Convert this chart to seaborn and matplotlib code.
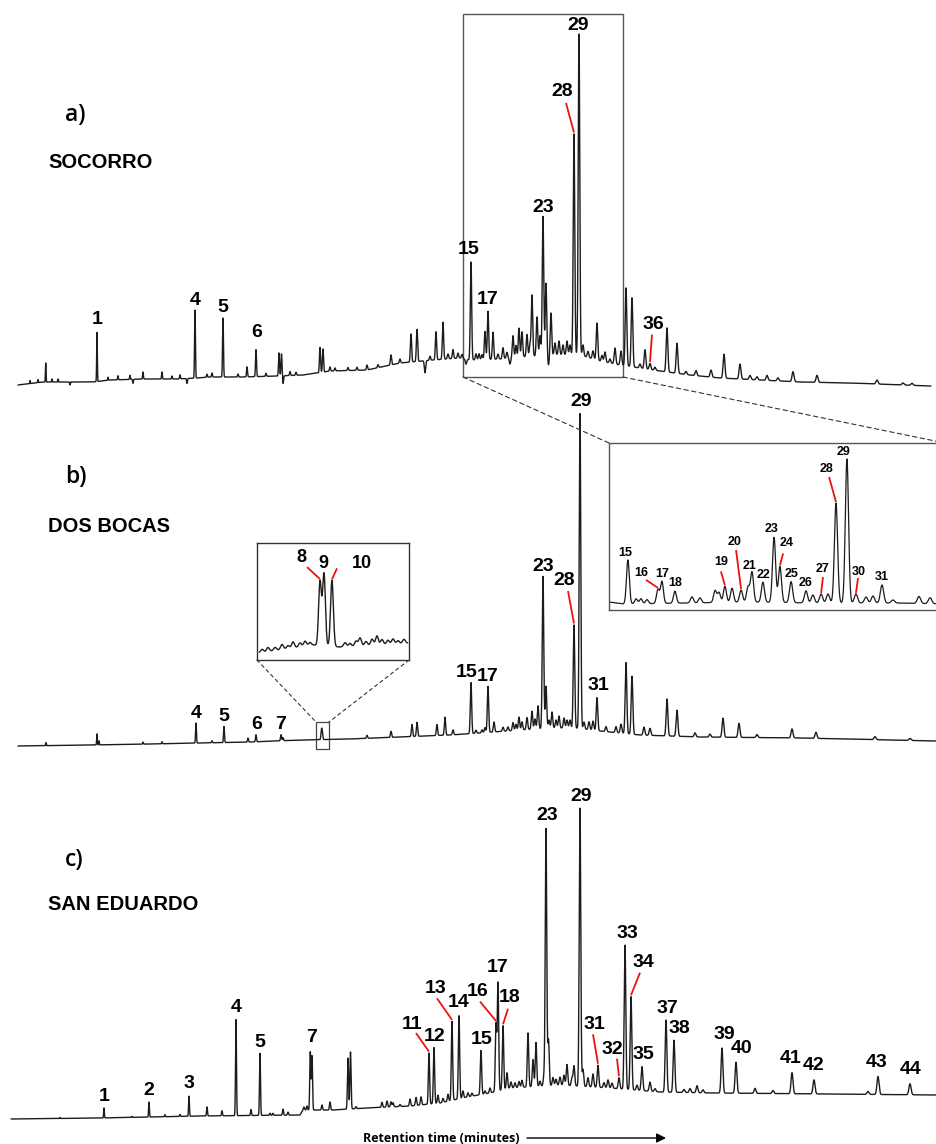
import numpy as np
import matplotlib
matplotlib.use("Agg")
import matplotlib.pyplot as plt
import seaborn as sns
import pandas as pd
from matplotlib.patches import Rectangle, ConnectionPatch

# ======================= DATA =======================
# retention axis in arbitrary units (same scale for all three chromatograms)
# ---- a) SOCORRO
a_base_rt = [18, 43, 93, 110, 143, 177, 197, 210, 243, 277, 303, 330, 367, 400, 433, 460,
             470, 500, 520, 550, 580, 600, 620, 640, 660, 690, 720, 760, 800, 850, 930]
a_base_int = [15, 18, 18, 20, 21, 21, 22, 23, 23, 24, 25, 29, 30, 37, 40, 42,
              40, 41, 43, 45, 45, 39, 35, 32, 29, 25, 22, 20, 18, 17, 14]
a_peak_rt = [30, 38, 45.7, 52, 58, 70, 97, 108, 118, 130, 133, 143, 162, 172, 180, 187, 195,
             207, 212, 223, 238, 247, 256, 266, 279, 281.5, 283, 290, 296, 320, 323, 330, 335,
             348, 357, 367, 378, 391, 400, 411, 417, 425, 430, 436, 443, 448, 453, 458, 462,
             466, 471, 476, 479, 482, 485, 488, 493, 498, 503, 507, 510, 513, 516, 519, 522,
             527, 530, 532, 537, 540, 543, 546, 548.5, 551, 555, 559, 563, 567, 570, 574,
             579, 583, 588, 593, 597, 602, 605, 610, 615, 621, 626, 632, 640, 645, 650, 655,
             667, 677, 686, 696, 711, 724, 740, 750, 757, 767, 778, 793, 817, 877, 903, 912]
a_peak_h = [3, 3, 19, 3, 3, -3, 49, 3, 4, 4, -4, 7, 7, 3, 4, -5, 68,
            3, 4, 59, 3, 10, 27, 3, 23, 22, -8, 4, 3, 25, 23, 4, 3,
            3, 3, 5, 3, 10, 4, 28, 32, -12, 4, 28, 37, 5, 9, 5, 4,
            -5, 98, 6, 6, 5, 28, 48, 27, 5, 11, 6, -6, 22, 12, 29, 25,
            22, 12, 61, 39, 20, 139, 72, -10, 42, 12, 14, 10, 14, 10, 221,
            321, 11, 6, 8, 37, 6, 10, 4, 16, 14, 78, 69, 4, 19, 6, 3,
            44, 30, 3, 5, 7, 24, 15, 4, 3, 5, 3, 10, 7, 4, 2, 2]
a_labels = ["1", "4", "5", "6", "15", "17", "23", "28", "29", "36"]
a_label_rt = [97, 195, 223, 256, 471, 488, 543, 574, 579, 650]

# ---- b) DOS BOCAS
b_base_rt = [18, 90, 150, 250, 300, 350, 400, 450, 480, 520, 550, 575, 600, 640, 700, 800, 936]
b_base_int = [14, 15, 16, 18, 20, 21, 23, 25, 27, 30, 32, 32, 29, 25, 23, 22, 19]
b_peak_rt = [46, 97, 99, 143, 162, 196, 212, 224, 248, 256, 281, 283, 321.4, 321.7, 322.4,
             367, 391, 412, 417, 437, 445, 453, 471, 476, 482, 485, 488, 494, 503, 508,
             513, 516, 519, 522, 527, 532, 535, 538, 543, 546, 549, 552, 556, 559, 564,
             567, 570, 574, 580, 584, 589, 593, 597, 606, 616, 621, 626, 632, 644, 650,
             667, 677, 695, 710, 723, 739, 757, 792, 816, 875, 910]
b_peak_h = [3, 11, 4, 2, 2, 20, 2, 16, 4, 7, 6, 3, 5, 5, 5,
            3, 6, 12, 14, 11, 18, 5, 51, 3, 3, 5, 46, 10, 4, 4,
            8, 6, 13, 8, 12, 18, 10, 23, 152, 42, 8, 16, 8, 12, 10,
            8, 8, 103, 315, 7, 8, 9, 33, 5, 6, 9, 71, 58, 8, 7,
            37, 26, 4, 3, 19, 14, 3, 9, 6, 3, 2]
b_labels = ["4", "5", "6", "7", "15", "17", "23", "28", "29", "31"]
b_label_rt = [196, 224, 256, 281, 471, 488, 543, 574, 580, 597]

# ---- b) enlarged window 15-31 (same retention scale)
z_base_rt = [463, 470, 500, 530, 560, 600, 623]
z_base_int = [8, 6, 7, 8, 7, 7, 6]
z_peak_rt = [472.0, 475.9, 478.2, 481.1, 486.3, 488.2, 494.4, 502.5, 506.3, 513.5, 515.4,
             518.2, 521.6, 525.9, 529.2, 531.1, 536.3, 541.6, 544.4, 549.7, 556.8, 560.1,
             564.0, 567.3, 571.1, 576.3, 580.6, 585.4, 588.7, 593.0, 598.2, 610.6, 615.9]
z_peak_h = [44, 5, 5, 4, 14, 22, 12, 6, 5, 12, 10,
            16, 14, 12, 15, 30, 20, 65, 36, 21, 12, 8,
            9, 9, 100, 144, 9, 6, 7, 18, 3, 7, 6]
z_labels = ["15", "16", "17", "18", "19", "20", "21", "22", "23", "24", "25", "26",
            "27", "28", "29", "30", "31"]
z_label_rt = [472.0, 486.3, 488.2, 494.4, 518.2, 525.9, 531.1, 536.3, 541.6, 544.4,
              549.7, 556.8, 564.0, 571.1, 576.3, 580.6, 593.0]

# ---- b) enlarged window 8-10
s_base_rt = [316, 320.8, 323.1, 329]
s_base_int = [7, 15, 13, 17]
s_peak_rt = [316.43, 316.94, 317.54, 318.14, 318.65, 319.08, 319.68, 320.11, 320.53,
             321.39, 321.73, 322.41, 323.53, 323.95, 324.47, 324.81, 325.32, 325.84,
             326.26, 326.69, 327.20, 327.63, 328.06, 328.57]
s_peak_h = [3, 4, 3, 5, 3, 6, 4, 5, 3,
            64, 72, 66, 4, 3, 5, 8, 4, 6,
            9, 5, 4, 5, 3, 4]
s_labels = ["8", "9", "10"]
s_label_rt = [321.39, 321.73, 322.41]

# ---- c) SAN EDUARDO
c_base_rt = [11, 100, 200, 300, 303, 333, 367, 410, 440, 467, 490, 510, 560, 610, 660,
             713, 827, 936]
c_base_int = [25, 26, 28, 29, 34, 34, 36, 38, 41, 47, 51, 56, 59, 56, 52, 51, 50, 49]
c_peak_rt = [60, 104, 132, 149, 165, 180, 189, 207, 222, 236, 251, 260, 270, 273, 283,
             288, 304, 307, 310.3, 312, 322, 330, 348, 350.5, 356, 382, 387, 391, 393, 400,
             410, 416, 421, 429, 434, 438, 443, 448, 452, 459, 463, 468, 472, 481, 485,
             490, 496, 498, 503, 507, 511, 515, 519, 522, 528, 533, 536, 540, 544, 546,
             548.5, 553, 556, 560, 564, 567, 572, 574, 580, 583, 588, 593, 598, 604, 608,
             612, 619, 625, 631, 637, 642, 650, 655, 666, 674, 684, 690, 697, 703, 722,
             736, 755, 773, 792, 814, 868, 878, 910]
c_peak_h = [1, 10, 1, 15, 2, 2, 20, 9, 5, 96, 6, 62, 2, 2, 6,
            3, 3, 4, 58, 54, 5, 8, 51, 57, 2, 5, 6, 5, 4, 2,
            7, 8, 8, 51, 56, 8, 4, 7, 79, 83, 7, 4, 3, 44, 3,
            5, 67, 108, 64, 16, 6, 5, 6, 7, 54, 27, 44, 5, 10, 257,
            46, 8, 6, 8, 10, 21, 8, 20, 278, 17, 9, 13, 22, 5, 8,
            5, 11, 144, 93, 5, 24, 9, 3, 72, 52, 3, 4, 7, 3, 45,
            31, 5, 3, 21, 14, 3, 18, 11]
c_labels = ["1", "2", "3", "4", "5", "7", "11", "12", "13", "14", "15", "16", "17", "18",
            "23", "29", "31", "32", "33", "34", "35", "37", "38", "39", "40", "41", "42",
            "43", "44"]
c_label_rt = [104, 149, 189, 236, 260, 311, 429, 434, 452, 459, 481, 496, 498, 503,
              546, 580, 598, 619, 625, 631, 642, 666, 674, 722, 736, 792, 814, 878, 910]

# ======================= LAYOUT (label offsets, leaders) =======================
# (dx, dy) of each label centre relative to its peak top; leader: (sx, sy) start offset
a_lab_off = [(0, 13), (0, 10), (0, 10), (1, 17), (-2, 12), (0, 12), (0, 9), (-12, 42), (-1, 8), (3, 39)]
a_lead = {"28": (4, -11), "36": (-1, -10)}
b_lab_off = [(0, 10), (0, 10), (1, 10), (0, 10), (-4, 10), (0, 10), (0, 10), (-10, 44), (1, 12), (1, 12)]
b_lead = {"28": (4, -10)}
c_lab_off = [(0, 11), (0, 12), (0, 13), (0, 12), (0, 11), (1, 14), (-17, 29), (1, 11), (-16, 33),
             (0, 13), (1, 11), (-18, 31), (0, 14), (7, 28), (1, 13), (1, 12), (-4, 41), (-7, 28),
             (2, 12), (12, 34), (1, 12), (1, 12), (5, 12), (2, 14), (6, 14), (-1, 14), (0, 14),
             (-1, 14), (1, 14)]
c_lead = {"11": (4, -9), "13": (1, -10), "16": (2, -10), "18": (-2, -11), "31": (-1, -10),
          "32": (5, -9), "34": (-3, -10)}
z_lab_off = [(-1.4, 7), (-8.1, 16), (0, 7), (0, 8), (-1.9, 24), (-2.9, 48), (-1, 6), (0.5, 7),
             (-1, 8), (3.4, 23), (0.4, 8), (0, 8), (0.9, 25), (-4.3, 34), (-1.4, 7), (1.4, 22), (0, 8)]
z_lead = {"16": (2.4, -7), "19": (0, -9), "20": (0.5, -8), "24": (-1.9, -10), "27": (0, -8),
          "28": (1.0, -8), "30": (-0.4, -6)}
s_lab_off = [(-1.63, 23), (-0.09, 9), (2.57, 17)]
s_lead = {"8": (0.52, -10), "10": (-2.14, -5)}

# ======================= STYLE =======================
sns.set_theme(style="white")
plt.rcParams["font.family"] = ["Liberation Sans", "DejaVu Sans"]
plt.rcParams["text.color"] = "black"
TRACE = "#1c1c1c"
RED = "#ee1111"
LAB = dict(fontsize=14, fontweight="bold", color="black", ha="center", va="center")

W, H = 936, 1144
fig = plt.figure(figsize=(W / 100, H / 100), dpi=100)
fig.patch.set_facecolor("white")


def fig_axes(px_left, px_top, px_right, px_bottom):
    return fig.add_axes([px_left / W, 1 - px_bottom / H, (px_right - px_left) / W,
                         (px_bottom - px_top) / H])


def sigma(rt):
    return 0.25 + 0.0009 * rt


def build(base_rt, base_int, peak_rt, peak_h, x0, x1, sig, step=0.1):
    x = np.arange(x0, x1, step)
    y = np.interp(x, base_rt, base_int)
    for r, h in zip(peak_rt, peak_h):
        s = sig(r)
        y = y + h * np.exp(-0.5 * ((x - r) / s) ** 2)
    return pd.DataFrame({"rt": x, "intensity": y})


def draw_trace(ax, df, lw=1.0):
    sns.lineplot(data=df, x="rt", y="intensity", ax=ax, color=TRACE, lw=lw,
                 estimator=None, sort=False)
    ax.set_xlabel("")
    ax.set_ylabel("")


def top_at(df, rt, win=0.8):
    m = (df.rt > rt - win) & (df.rt < rt + win)
    return df.intensity[m].max()


def put_labels(ax, df, labels, lrt, offs, leads, fs, win=0.8, lead_gap=1.5):
    for lab, r, (dx, dy) in zip(labels, lrt, offs):
        t = top_at(df, r, win)
        tx, ty = r + dx, t + dy
        ax.text(tx, ty, lab, **{**LAB, "fontsize": fs})
        if lab in leads:
            sx, sy = leads[lab]
            ax.plot([tx + sx, r], [ty + sy, t + lead_gap], color=RED, lw=1.3,
                    solid_capstyle="butt")


def panel_titles(ax, letter, name, y_letter, y_name):
    ax.text(65, y_letter, letter, fontsize=16.5, fontweight="semibold", family="Open Sans",
            va="center", color="black")
    ax.text(48, y_name, name, fontsize=14.5, fontweight="bold", va="center", color="black")


# ---------------- panel a ----------------
ax_a = fig_axes(0, 0, W, 400)
ax_a.set_xlim(0, W)
ax_a.set_ylim(0, 400)
ax_a.axis("off")
dfa = build(a_base_rt, a_base_int, a_peak_rt, a_peak_h, 18, 931, sigma)
draw_trace(ax_a, dfa)
put_labels(ax_a, dfa, a_labels, a_label_rt, a_lab_off, a_lead, 14)
panel_titles(ax_a, "a)", "SOCORRO", 285, 238)

# ---------------- panel b ----------------
ax_b = fig_axes(0, 400, W, 760)
ax_b.set_xlim(0, W)
ax_b.set_ylim(0, 360)
ax_b.axis("off")
dfb = build(b_base_rt, b_base_int, b_peak_rt, b_peak_h, 18, 936, sigma)
draw_trace(ax_b, dfb)
put_labels(ax_b, dfb, b_labels, b_label_rt, b_lab_off, b_lead, 14)
panel_titles(ax_b, "b)", "DOS BOCAS", 283, 233)

# ---------------- panel c ----------------
ax_c = fig_axes(0, 760, W, H)
ax_c.set_xlim(0, W)
ax_c.set_ylim(0, 384)
ax_c.axis("off")
dfc = build(c_base_rt, c_base_int, c_peak_rt, c_peak_h, 11, 936, sigma)
draw_trace(ax_c, dfc)
put_labels(ax_c, dfc, c_labels, c_label_rt, c_lab_off, c_lead, 14)
panel_titles(ax_c, "c)", "SAN EDUARDO", 284, 240)
ax_c.text(363, 6, "Retention time (minutes)", fontsize=9.0, fontweight="bold",
          family="Open Sans", va="center", ha="left", color="black")
ax_c.annotate("", xy=(666, 6), xytext=(527, 6),
              arrowprops=dict(arrowstyle="-|>", color="black", lw=1.0,
                              mutation_scale=14, shrinkA=0, shrinkB=0))

# ---------------- enlarged window (in panel b) ----------------
ax_z = fig_axes(609, 443, 945, 610)
ax_z.set_xlim(463, 623)
ax_z.set_ylim(0, 167)
dfz = build(z_base_rt, z_base_int, z_peak_rt, z_peak_h, 463, 623, sigma)
draw_trace(ax_z, dfz, lw=0.9)
put_labels(ax_z, dfz, z_labels, z_label_rt, z_lab_off, z_lead, 9, win=0.6, lead_gap=1)
ax_z.set_xticks([])
ax_z.set_yticks([])
for sp in ax_z.spines.values():
    sp.set_visible(True)
    sp.set_color("#555555")
    sp.set_linewidth(1.0)
ax_z.set_zorder(5)

# zoom rectangle in panel a and dashed connectors
x0z, x1z = ax_z.get_xlim()
ax_a.add_patch(Rectangle((x0z, 23), x1z - x0z, 363, fill=False, ec="#555555", lw=1.0))
for (xa, fx) in [(x0z, 0), (x1z, 1)]:
    con = ConnectionPatch(xyA=(xa, 23), coordsA=ax_a.transData,
                          xyB=(fx, 1), coordsB=ax_z.transAxes,
                          ls=(0, (4, 3)), color="#333333", lw=0.8)
    fig.add_artist(con)

# ---------------- small window 8-10 (in panel b) ----------------
ax_s = fig_axes(257, 543, 409, 660)
ax_s.set_xlim(316, 329)
ax_s.set_ylim(0, 117)
dfs = build(s_base_rt, s_base_int, s_peak_rt, s_peak_h, 316.2, 328.9, lambda r: 0.12, step=0.01)
draw_trace(ax_s, dfs, lw=1.0)
put_labels(ax_s, dfs, s_labels, s_label_rt, s_lab_off, s_lead, 13, win=0.1, lead_gap=1)
ax_s.set_xticks([])
ax_s.set_yticks([])
for sp in ax_s.spines.values():
    sp.set_visible(True)
    sp.set_color("#333333")
    sp.set_linewidth(1.0)
ax_s.set_zorder(5)

x0s, x1s = ax_s.get_xlim()
ax_b.add_patch(Rectangle((x0s, 11), x1s - x0s, 27, fill=False, ec="#444444", lw=0.9))
for (xb, fx) in [(x0s, 0), (x1s, 1)]:
    con = ConnectionPatch(xyA=(fx, 0), coordsA=ax_s.transAxes,
                          xyB=(xb, 38), coordsB=ax_b.transData,
                          ls=(0, (3, 3)), color="#333333", lw=0.8)
    fig.add_artist(con)

fig.savefig("out.png", dpi=100, facecolor="white")
